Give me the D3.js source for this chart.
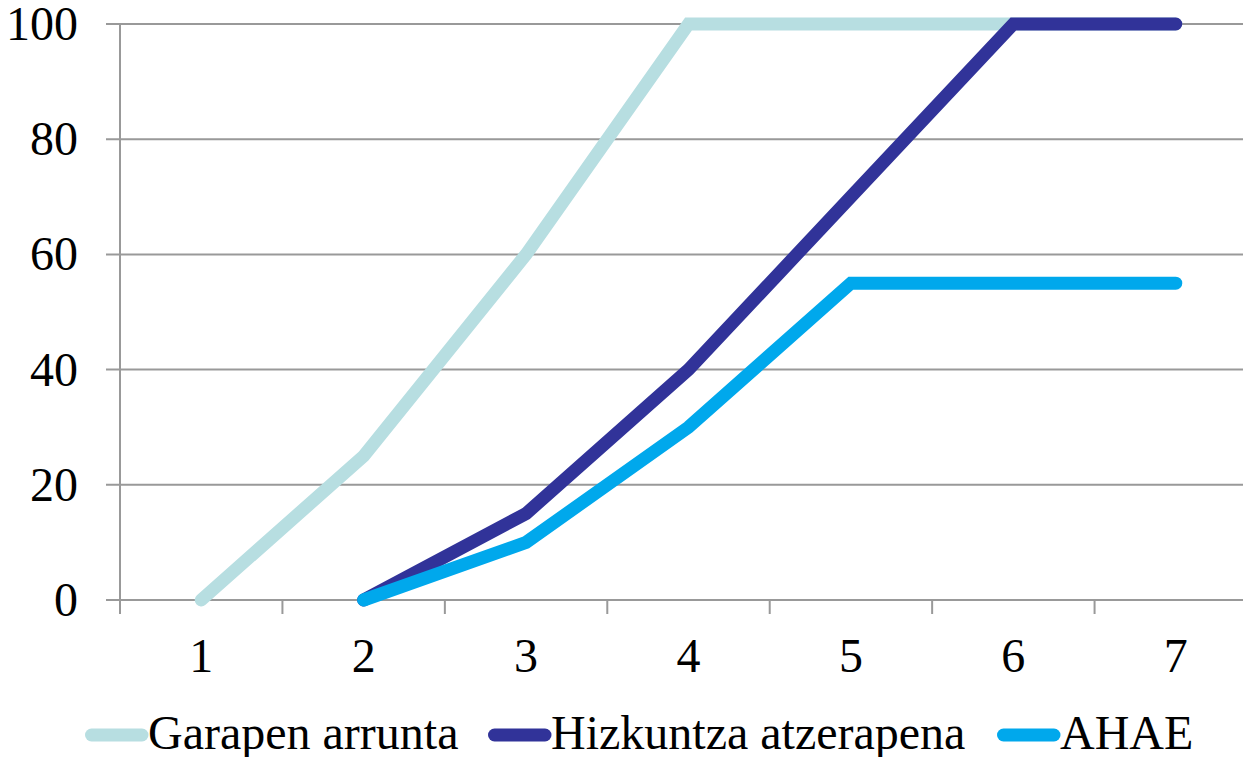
<!DOCTYPE html>
<html><head><meta charset="utf-8">
<script src="https://cdn.jsdelivr.net/npm/d3@7"></script>
<style>body{margin:0;background:#fff}svg{display:block}text{font-family:"Liberation Serif","Times New Roman",serif}</style>
</head><body>
<script>
const categories = ["1","2","3","4","5","6","7"];
const yTicks = [0,20,40,60,80,100];
const seriesNames = ["Garapen arrunta","Hizkuntza atzerapena","AHAE"];
const garapen = [0,25,60,100,100,100,100];
const hizkuntza = [null,0,15,40,70,100,100];
const ahae = [null,0,10,30,55,55,55];
const colors = ["#B7DEE1","#313399","#00A8EC"];
const seriesValues = [garapen, hizkuntza, ahae];

(function(){
const W=1243,H=757;
const svg=d3.select("body").append("svg").attr("width",W).attr("height",H);
const pL=120,pR=1257,pT=24,pB=600;
const x=d3.scaleBand().domain(categories).range([pL,pR]);
const y=d3.scaleLinear().domain([0,100]).range([pB,pT]);
const fs=48;

svg.append("g").selectAll("line").data(yTicks).join("line")
  .attr("x1",pL-14).attr("x2",W).attr("y1",d=>y(d)).attr("y2",d=>y(d))
  .attr("stroke","#999").attr("stroke-width",2);
svg.append("line").attr("x1",pL).attr("x2",pL).attr("y1",pT).attr("y2",pB+14)
  .attr("stroke","#999").attr("stroke-width",2);
const bounds = categories.map(c=>x(c)).concat([x(categories[categories.length-1])+x.bandwidth()]);
svg.append("g").selectAll("line").data(bounds).join("line")
  .attr("x1",d=>d).attr("x2",d=>d).attr("y1",pB).attr("y2",pB+14)
  .attr("stroke","#999").attr("stroke-width",2);
svg.append("g").selectAll("text").data(yTicks).join("text")
  .attr("x",78).attr("y",d=>y(d)+16).attr("text-anchor","end")
  .attr("font-size",fs).attr("fill","#000").text(d=>d);
svg.append("g").selectAll("text").data(categories).join("text")
  .attr("x",d=>x(d)+x.bandwidth()/2).attr("y",672).attr("text-anchor","middle")
  .attr("font-size",fs).attr("fill","#000").text(d=>d);

const line=d3.line().defined(d=>d.v!=null).x(d=>x(d.c)+x.bandwidth()/2).y(d=>y(d.v));
seriesValues.forEach((vals,i)=>{
  svg.append("path").datum(categories.map((c,j)=>({c,v:vals[j]})))
    .attr("d",line).attr("fill","none").attr("stroke",colors[i]).attr("stroke-width",13)
    .attr("stroke-linecap","round").attr("stroke-linejoin","miter");
});

const legendX=[85,488,997];
const lg=svg.append("g");
seriesNames.forEach((n,i)=>{
  lg.append("line").attr("x1",legendX[i]+6.5).attr("x2",legendX[i]+57).attr("y1",735).attr("y2",735)
    .attr("stroke",colors[i]).attr("stroke-width",13).attr("stroke-linecap","round");
  lg.append("text").attr("x",legendX[i]+63).attr("y",749)
    .attr("font-size",fs).attr("fill","#000").text(n);
});
})();
</script>
</body></html>
